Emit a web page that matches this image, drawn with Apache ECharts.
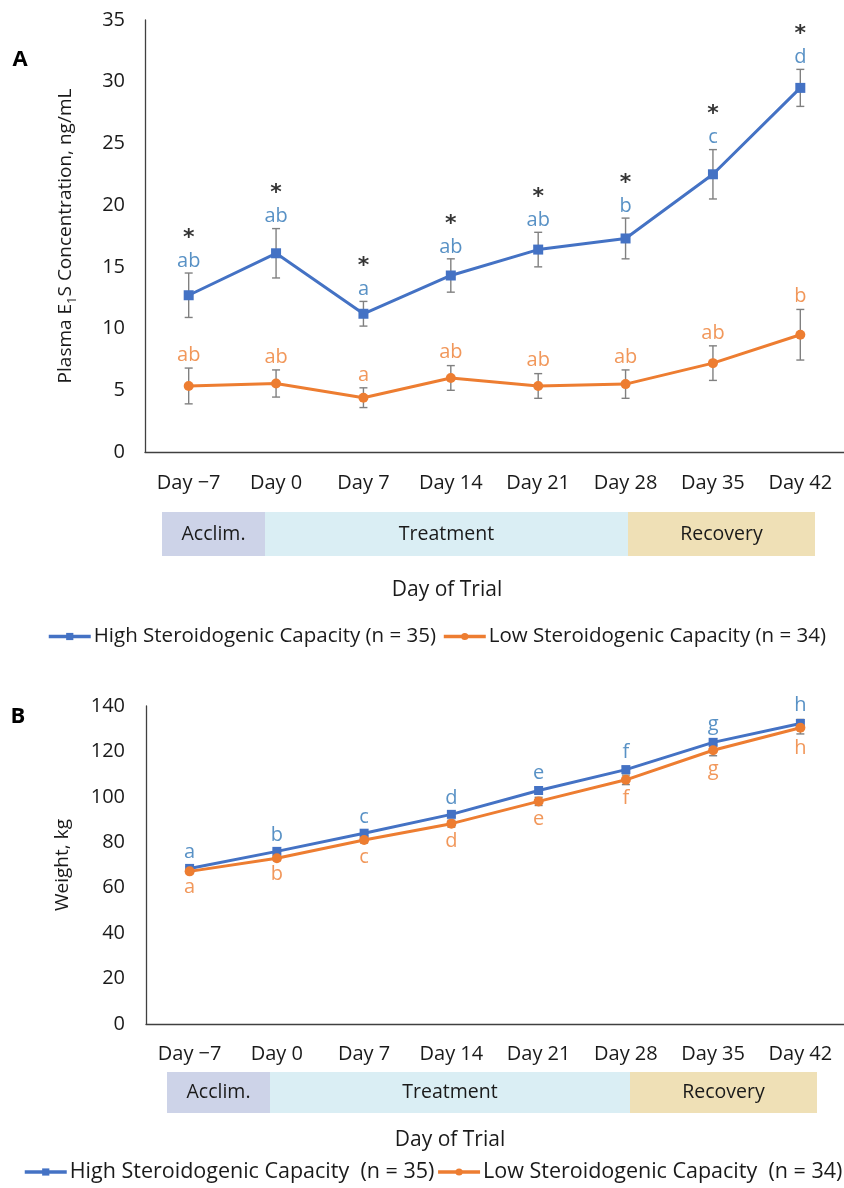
<!DOCTYPE html>
<html>
<head>
<meta charset="utf-8">
<script src="https://cdn.jsdelivr.net/npm/echarts@6/dist/echarts.min.js"></script>
<style>
html,body{margin:0;padding:0;background:#fff;}
#c{width:844px;height:1188px;}
</style>
</head>
<body>
<div id="c"></div>
<script>
// ---------- data ----------
var categories = ['Day \u22127', 'Day 0', 'Day 7', 'Day 14', 'Day 21', 'Day 28', 'Day 35', 'Day 42'];

// Panel A: plasma E1S (ng/mL)
var e1sHighMean = [12.7, 16.1, 11.2, 14.3, 16.4, 17.3, 22.5, 29.5];
var e1sHighSE   = [1.8, 2.0, 1.0, 1.35, 1.4, 1.65, 2.0, 1.5];
var e1sLowMean  = [5.35, 5.55, 4.4, 6.0, 5.35, 5.5, 7.2, 9.5];
var e1sLowSE    = [1.45, 1.1, 0.8, 1.0, 1.0, 1.15, 1.4, 2.05];
var e1sHighLetters = ['ab', 'ab', 'a', 'ab', 'ab', 'b', 'c', 'd'];
var e1sLowLetters  = ['ab', 'ab', 'a', 'ab', 'ab', 'ab', 'ab', 'b'];
var e1sStars       = ['*', '*', '*', '*', '*', '*', '*', '*'];
var e1sTicks = [0, 5, 10, 15, 20, 25, 30, 35];

// Panel B: weight (kg)
var wHighMean = [68.5, 76.0, 84.0, 92.3, 102.8, 112.0, 124.0, 132.3];
var wHighSE   = [0.8, 0.9, 1.0, 1.1, 1.3, 1.4, 1.6, 1.8];
var wLowMean  = [67.2, 73.0, 81.0, 88.2, 98.0, 107.5, 120.5, 130.4];
var wLowSE    = [1.0, 1.1, 1.3, 1.5, 1.8, 2.1, 2.4, 2.7];
var wHighLetters = ['a', 'b', 'c', 'd', 'e', 'f', 'g', 'h'];
var wLowLetters  = ['a', 'b', 'c', 'd', 'e', 'f', 'g', 'h'];
var wTicks = [0, 20, 40, 60, 80, 100, 120, 140];

var nameHighA = 'High Steroidogenic Capacity (n = 35)';
var nameLowA  = 'Low Steroidogenic Capacity (n = 34)';
var nameHighB = 'High Steroidogenic Capacity  (n = 35)';
var nameLowB  = 'Low Steroidogenic Capacity  (n = 34)';

var phases = ['Acclim.', 'Treatment', 'Recovery'];

// ---------- styles ----------
var FONT = '"Open Sans", "Noto Sans", sans-serif';
var BLUE = '#4472C4', ORANGE = '#ED7D31';
var BLUE_TXT = '#2E75B6', ORANGE_TXT = '#ED7D31';
var ERR = '#808080';
var AX = '#404040';
var TXT = '#1a1a1a';

function errData(mean, se) {
  return mean.map(function (m, i) { return [i, m - se[i], m + se[i]]; });
}
function renderErr(params, api) {
  var x = api.value(0);
  var lo = api.coord([x, api.value(1)]);
  var hi = api.coord([x, api.value(2)]);
  var w = 4;
  var st = { stroke: ERR, lineWidth: 1.4 };
  return {
    type: 'group',
    children: [
      { type: 'line', shape: { x1: lo[0], y1: lo[1], x2: hi[0], y2: hi[1] }, style: st },
      { type: 'line', shape: { x1: lo[0] - w, y1: lo[1], x2: lo[0] + w, y2: lo[1] }, style: st },
      { type: 'line', shape: { x1: hi[0] - w, y1: hi[1], x2: hi[0] + w, y2: hi[1] }, style: st }
    ]
  };
}
function topPoints(mean, se) {
  return mean.map(function (m, i) { return [i, m + se[i]]; });
}
function botPoints(mean, se) {
  return mean.map(function (m, i) { return [i, m - se[i]]; });
}

function xAxisCfg(gi, margin) {
  return {
    type: 'category', gridIndex: gi, data: categories, boundaryGap: true,
    axisLine: { lineStyle: { color: AX, width: 1.3 } },
    axisTick: { show: false },
    axisLabel: { color: TXT, fontSize: 20, fontFamily: FONT, margin: margin },
    splitLine: { show: false }
  };
}

var chart = echarts.init(document.getElementById('c'), null, { renderer: 'canvas' });

function phaseGraphics(y, h, xs) {
  var fills = ['#CDD3E8', '#DAEEF4', '#EFE0B6'];
  var out = [];
  for (var i = 0; i < 3; i++) {
    out.push({
      type: 'rect', left: xs[i], top: y,
      shape: { width: xs[i + 1] - xs[i], height: h },
      style: { fill: fills[i] }, z: 0
    });
    out.push({
      type: 'text', x: (xs[i] + xs[i + 1]) / 2, y: y + h / 2,
      style: { text: phases[i], fill: TXT, font: '19.5px ' + FONT, align: 'center', verticalAlign: 'middle' },
      z: 1
    });
  }
  return out;
}

var graphics = []
  .concat(phaseGraphics(512, 44, [162, 265, 628, 815]))
  .concat(phaseGraphics(1072, 41, [167, 270, 630, 817]))
  .concat([
    { type: 'text', x: 447, y: 590, style: { text: 'Day of Trial', fill: TXT, font: '21px ' + FONT, align: 'center', verticalAlign: 'middle' } },
    { type: 'text', x: 450, y: 1140, style: { text: 'Day of Trial', fill: TXT, font: '21px ' + FONT, align: 'center', verticalAlign: 'middle' } },
    { type: 'text', x: 20, y: 60, style: { text: 'A', fill: '#000', font: 'bold 22px ' + FONT, align: 'center', verticalAlign: 'middle' } },
    { type: 'text', x: 18, y: 717, style: { text: 'B', fill: '#000', font: 'bold 22px ' + FONT, align: 'center', verticalAlign: 'middle' } }
  ]);

var legendLine = { width: 3.5 };

var option = {
  backgroundColor: '#fff',
  animation: false,
  textStyle: { fontFamily: FONT },
  grid: [
    { left: 145, right: -5, top: 20, bottom: 736, containLabel: false },
    { left: 146, right: -6, top: 706, bottom: 164, containLabel: false }
  ],
  legend: [
    {
      data: [nameHighA, nameLowA], left: 47, top: 626, padding: 0,
      itemWidth: 42, itemHeight: 9, itemGap: 6,
      lineStyle: legendLine,
      textStyle: { fontSize: 20.5, color: TXT, fontFamily: FONT, padding: [0, 0, 0, -2] }
    },
    {
      data: [nameHighB, nameLowB], left: 23, top: 1161, padding: 0,
      itemWidth: 42, itemHeight: 9, itemGap: 2,
      lineStyle: legendLine,
      textStyle: { fontSize: 21.5, color: TXT, fontFamily: FONT, padding: [0, 0, 0, -2] }
    }
  ],
  xAxis: [xAxisCfg(0, 21), xAxisCfg(1, 20)],
  yAxis: [
    {
      type: 'value', gridIndex: 0, min: 0, max: 35, interval: 5,
      axisLine: { show: true, lineStyle: { color: AX, width: 1.3 } },
      axisTick: { show: false }, splitLine: { show: false },
      axisLabel: { color: TXT, fontSize: 20, fontFamily: FONT, margin: 20,
        formatter: function (v) { return e1sTicks.indexOf(v) >= 0 ? String(v) : ''; } },
      name: '{a|Plasma E}{s|1}{a|S Concentration, ng/mL}',
      nameLocation: 'middle', nameGap: 66,
      nameTextStyle: {
        rich: {
          a: { fontSize: 19, color: TXT, fontFamily: FONT, lineHeight: 26, verticalAlign: 'middle' },
          s: { fontSize: 13, color: TXT, fontFamily: FONT, lineHeight: 26, verticalAlign: 'bottom', padding: [9, 0, 0, 0] }
        }
      }
    },
    {
      type: 'value', gridIndex: 1, min: 0, max: 140, interval: 20,
      axisLine: { show: true, lineStyle: { color: AX, width: 1.3 } },
      axisTick: { show: false }, splitLine: { show: false },
      axisLabel: { color: TXT, fontSize: 20, fontFamily: FONT, margin: 21,
        formatter: function (v) { return wTicks.indexOf(v) >= 0 ? String(v) : ''; } },
      name: 'Weight, kg', nameLocation: 'middle', nameGap: 74,
      nameTextStyle: { fontSize: 19, color: TXT, fontFamily: FONT }
    }
  ],
  graphic: graphics,
  series: [
    // ---- Panel A ----
    { type: 'custom', xAxisIndex: 0, yAxisIndex: 0, renderItem: renderErr, data: errData(e1sHighMean, e1sHighSE), z: 1, silent: true },
    { type: 'custom', xAxisIndex: 0, yAxisIndex: 0, renderItem: renderErr, data: errData(e1sLowMean, e1sLowSE), z: 1, silent: true },
    { name: nameHighA, type: 'line', xAxisIndex: 0, yAxisIndex: 0, data: e1sHighMean,
      symbol: 'rect', symbolSize: 10, lineStyle: { color: BLUE, width: 3 }, itemStyle: { color: BLUE }, z: 3 },
    { name: nameLowA, type: 'line', xAxisIndex: 0, yAxisIndex: 0, data: e1sLowMean,
      symbol: 'circle', symbolSize: 10, lineStyle: { color: ORANGE, width: 3 }, itemStyle: { color: ORANGE }, z: 3 },
    { type: 'scatter', xAxisIndex: 0, yAxisIndex: 0, symbolSize: 0, silent: true, z: 4,
      data: topPoints(e1sHighMean, e1sHighSE),
      label: { show: true, position: 'top', distance: 1,
        formatter: function (p) { return '{s|' + e1sStars[p.dataIndex] + '}\n{l|' + e1sHighLetters[p.dataIndex] + '}'; },
        rich: {
          s: { fontSize: 22, fontWeight: 'bold', color: '#000', lineHeight: 24, fontFamily: 'DejaVu Sans' },
          l: { fontSize: 20, color: BLUE_TXT, lineHeight: 22, fontFamily: FONT }
        } } },
    { type: 'scatter', xAxisIndex: 0, yAxisIndex: 0, symbolSize: 0, silent: true, z: 4,
      data: topPoints(e1sLowMean, e1sLowSE),
      label: { show: true, position: 'top', distance: 3, color: ORANGE_TXT, fontSize: 20, fontFamily: FONT,
        formatter: function (p) { return e1sLowLetters[p.dataIndex]; } } },

    // ---- Panel B ----
    { type: 'custom', xAxisIndex: 1, yAxisIndex: 1, renderItem: renderErr, data: errData(wHighMean, wHighSE), z: 1, silent: true },
    { type: 'custom', xAxisIndex: 1, yAxisIndex: 1, renderItem: renderErr, data: errData(wLowMean, wLowSE), z: 1, silent: true },
    { name: nameHighB, type: 'line', xAxisIndex: 1, yAxisIndex: 1, data: wHighMean,
      symbol: 'rect', symbolSize: 9, lineStyle: { color: BLUE, width: 3 }, itemStyle: { color: BLUE }, z: 3 },
    { name: nameLowB, type: 'line', xAxisIndex: 1, yAxisIndex: 1, data: wLowMean,
      symbol: 'circle', symbolSize: 10, lineStyle: { color: ORANGE, width: 3 }, itemStyle: { color: ORANGE }, z: 3 },
    { type: 'scatter', xAxisIndex: 1, yAxisIndex: 1, symbolSize: 0, silent: true, z: 4,
      data: topPoints(wHighMean, wHighSE),
      label: { show: true, position: 'top', distance: 4, color: BLUE_TXT, fontSize: 20, fontFamily: FONT,
        formatter: function (p) { return wHighLetters[p.dataIndex]; } } },
    { type: 'scatter', xAxisIndex: 1, yAxisIndex: 1, symbolSize: 0, silent: true, z: 4,
      data: botPoints(wLowMean, wLowSE),
      label: { show: true, position: 'bottom', distance: 4, color: ORANGE_TXT, fontSize: 20, fontFamily: FONT,
        formatter: function (p) { return wLowLetters[p.dataIndex]; } } }
  ]
};
chart.setOption(option);
</script>
</body>
</html>
